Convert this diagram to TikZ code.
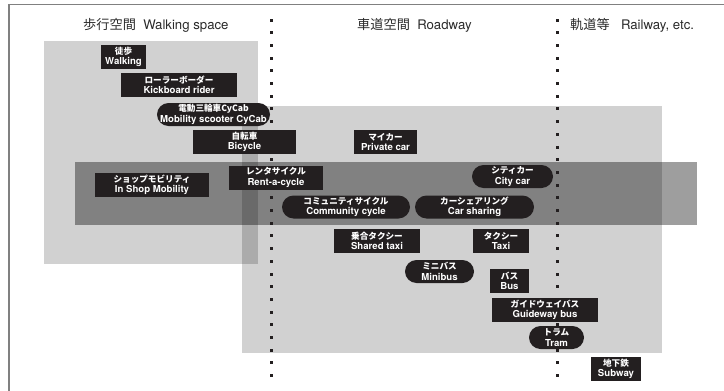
\documentclass[tikz,border=0pt]{standalone}
\usepackage{fontspec}
\setmainfont{TeX Gyre Heros}
\newfontfamily\jp{Noto Sans CJK JP}
\definecolor{ink}{HTML}{231F20}
\definecolor{frame}{HTML}{808080}
\definecolor{hdr}{HTML}{2A2A2A}
\newcommand{\lbl}[2]{{\jp\bfseries\fontsize{8.6}{10.4}\selectfont #1}\\#2}
\begin{document}
\begin{tikzpicture}[x=1pt,y=-1pt,
  box/.style={fill=ink, text=white, inner sep=0pt, align=center,
    font=\bfseries\fontsize{9.6}{10.4}\selectfont,
    minimum height=24pt, minimum width=#1},
  pill/.style={box=#1, rounded corners=11.5pt, minimum height=23pt},
  header/.style={anchor=west, text=hdr, inner sep=0pt, font=\fontsize{13.2}{14}\selectfont},
  region/.style={fill=black, fill opacity=0.18},
  band/.style={fill=black, fill opacity=0.38},
  dotsq/.style={fill=ink}]
\useasboundingbox (0,0) rectangle (724,391);

% regions
\fill[region] (44,41) rectangle (258,264);
\fill[region] (242,106) rectangle (662,353);
\fill[band] (75,162) rectangle (697,225);

% dotted separators
\foreach \i in {0,...,28}{
  \fill[dotsq] (270,{18.5+12.7*\i}) rectangle ++(3,3);
  \fill[dotsq] (556,{18.5+12.7*\i}) rectangle ++(3,3);
}

% frame
\draw[frame, line width=1.5pt] (9,391) -- (9,4.5) -- (724,4.5);

% headers
\node[header] (hwalk) at (83,25) {{\jp 歩行空間}\hspace{0.55em}Walking space};
\node[header] (hroad) at (357,25) {{\jp 車道空間}\hspace{0.55em}Roadway};
\node[header] (hrail) at (570,25) {{\jp 軌道等}\hspace{0.85em}Railway, etc.};

% modes
\node[box=45] (walking) at (123.5,57) {\lbl{徒歩}{Walking}};
\node[box=116] (kick) at (179,85) {\lbl{ローラーボーダー}{Kickboard rider}};
\node[pill=113] (cycab) at (213.5,114.5) {\lbl{電動三輪車CyCab}{Mobility scooter CyCab}};
\node[box=103] (bicycle) at (244.5,142) {\lbl{自転車}{Bicycle}};
\node[box=63] (private) at (385.5,142) {\lbl{マイカー}{Private car}};
\node[box=114] (shop) at (152,185) {\lbl{ショップモビリティ}{In Shop Mobility}};
\node[box=94] (rent) at (276,177.5) {\lbl{レンタサイクル}{Rent-a-cycle}};
\node[pill=81] (city) at (512.5,176.5) {\lbl{シティカー}{City car}};
\node[pill=128] (community) at (346,207) {\lbl{コミュニティサイクル}{Community cycle}};
\node[pill=119] (carshare) at (474.5,207) {\lbl{カーシェアリング}{Car sharing}};
\node[box=86] (sharedtaxi) at (377,241) {\lbl{乗合タクシー}{Shared taxi}};
\node[box=56] (taxi) at (501,241) {\lbl{タクシー}{Taxi}};
\node[pill=69] (minibus) at (439.5,271.5) {\lbl{ミニバス}{Minibus}};
\node[box=39] (bus) at (509.5,281) {\lbl{バス}{Bus}};
\node[box=106] (guideway) at (545,310) {\lbl{ガイドウェイバス}{Guideway bus}};
\node[pill=55] (tram) at (556.5,337.5) {\lbl{トラム}{Tram}};
\node[box=50] (subway) at (616,369) {\lbl{地下鉄}{Subway}};
\end{tikzpicture}
\end{document}
